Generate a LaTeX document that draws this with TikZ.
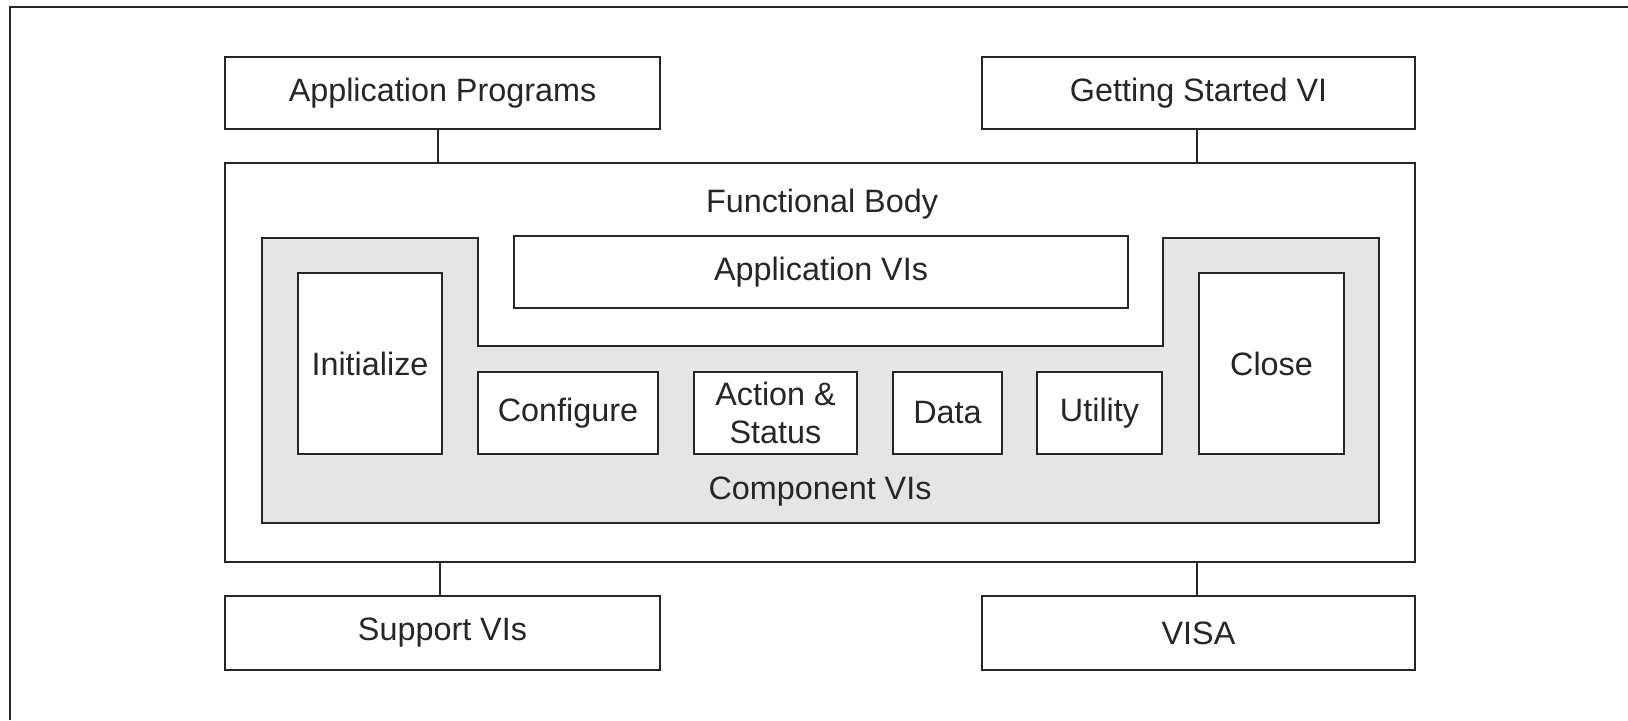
\documentclass[tikz,border=0pt]{standalone}
\usepackage{fontspec}
\setmainfont{Liberation Sans}
\tikzset{
    blk/.style={draw=black!85,line width=0.6pt,fill=white,inner sep=0pt,align=center,
        text=black!85,font=\fontsize{9.2}{10.8}\selectfont},
    lbl/.style={inner sep=0pt,text=black!85,font=\fontsize{9.2}{10.8}\selectfont},
    wire/.style={draw=black!85,line width=0.6pt}
}
\begin{document}
\begin{tikzpicture}[x=0.01cm,y=-0.01cm]
        \useasboundingbox (0,0) rectangle (1628,720);
        \draw[wire] (10,720) -- (10,7) -- (1628,7);

        \node[blk,minimum width=4.35cm,minimum height=0.72cm] (appprog) at (442.5,93) {Application Programs};
        \node[blk,minimum width=4.33cm,minimum height=0.72cm] (getstart) at (1198.5,93) {Getting Started VI};

        \node[blk,minimum width=11.90cm,minimum height=3.99cm] (body) at (820,362.5) {};
        \node[lbl] (bodytxt) at (822,204) {Functional Body};

        \draw[wire,fill=black!10] (262,238) -- (478,238) -- (478,346) -- (1163,346) -- (1163,238)
            -- (1379,238) -- (1379,523) -- (262,523) -- cycle;

        \node[blk,minimum width=6.14cm,minimum height=0.72cm] (appvis) at (821,272) {Application VIs};
        \node[blk,minimum width=1.44cm,minimum height=1.81cm] (init) at (370,363.5) {Initialize};
        \node[blk,minimum width=1.45cm,minimum height=1.81cm] (close) at (1271.5,363.5) {Close};

        \node[blk,minimum width=1.80cm,minimum height=0.82cm] (config) at (568,413) {Configure};
        \node[blk,minimum width=1.63cm,minimum height=0.82cm] (action) at (775.5,413) {Action \&\\Status};
        \node[blk,minimum width=1.09cm,minimum height=0.82cm] (data) at (947.5,413) {Data};
        \node[blk,minimum width=1.25cm,minimum height=0.82cm] (utility) at (1099.5,413) {Utility};
        \node[lbl] (comptxt) at (820,492) {Component VIs};

        \node[blk,minimum width=4.35cm,minimum height=0.74cm] (support) at (442.5,633) {Support VIs};
        \node[blk,minimum width=4.33cm,minimum height=0.74cm] (visa) at (1198.5,633) {VISA};

        \draw[wire] ([xshift=-0.045cm]appprog.south) -- ([xshift=-0.045cm]appprog.south |- body.north);
        \draw[wire] ([xshift=-0.015cm]getstart.south) -- ([xshift=-0.015cm]getstart.south |- body.north);
        \draw[wire] ([xshift=-0.025cm]support.north) -- ([xshift=-0.025cm]support.north |- body.south);
        \draw[wire] ([xshift=-0.015cm]visa.north) -- ([xshift=-0.015cm]visa.north |- body.south);
\end{tikzpicture}
\end{document}
